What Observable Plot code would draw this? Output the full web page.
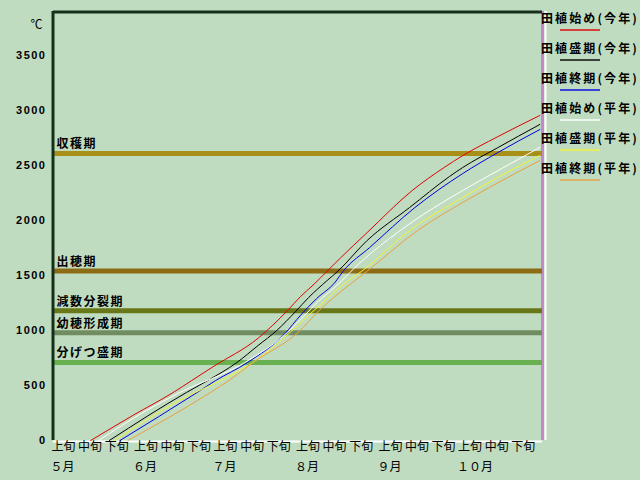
<!DOCTYPE html>
<html>
<head>
<meta charset="utf-8">
<script src="https://cdn.jsdelivr.net/npm/d3@7"></script>
<script src="https://cdn.jsdelivr.net/npm/@observablehq/plot@0.6"></script>
<style>
  html, body { margin: 0; padding: 0; background: #c0dcc0; }
  #wrap { position: relative; width: 640px; height: 480px; overflow: hidden; background: #c0dcc0; }
  #legend { position: absolute; left: 541px; top: 0; width: 99px; height: 200px;
            font-family: "Noto Sans CJK JP", sans-serif; }
  .lg-text { position: absolute; left: 0; font-size: 12px; line-height: 14px; font-weight: bold;
             letter-spacing: 2.1px; white-space: nowrap; color: #000; }
  .lg-line { position: absolute; left: 19px; width: 40px; height: 2px; opacity: 0.7; }
</style>
</head>
<body>
<div id="wrap"><div id="chart"></div><div id="legend"></div></div>
<script>
const YEAR = 2023;

// Tick labels
const yTicks = [0, 500, 1000, 1500, 2000, 2500, 3000, 3500];
const dekadDates = ["05-01","05-11","05-21","06-01","06-11","06-21","07-01","07-11","07-21",
                    "08-01","08-11","08-21","09-01","09-11","09-21","10-01","10-11","10-21"];
const dekadLabels = ["上旬","中旬","下旬","上旬","中旬","下旬","上旬","中旬","下旬",
                     "上旬","中旬","下旬","上旬","中旬","下旬","上旬","中旬","下旬"];
const monthDates = ["05-01","06-01","07-01","08-01","09-01","10-01"];
const monthLabels = ["５月","６月","７月","８月","９月","１０月"];

// Growth stage thresholds (accumulated temperature, ℃)
const stageNames  = ["収穫期","出穂期","減数分裂期","幼穂形成期","分げつ盛期"];
const stageValues = [2610, 1540, 1180, 980, 710];
const stageColors = ["#a89018","#8c6c14","#687818","#708c60","#68b050"];

// Series
const seriesNames  = ["田植始め(今年)","田植盛期(今年)","田植終期(今年)","田植始め(平年)","田植盛期(平年)","田植終期(平年)"];
const seriesColors = ["#e00000","#000000","#0000e0","#ffffff","#f4f430","#e8a040"];

const startThisDates  = ["05-15","05-31","06-15","06-22","06-30","07-17","07-28","08-02","08-07","08-12","08-17","08-27","09-13","09-25","10-02","10-15","10-31"];
const startThisValues = [0, 230, 436, 545, 670, 930, 1180, 1310, 1420, 1540, 1660, 1890, 2273, 2482, 2590, 2760, 2955];

const peakThisDates  = ["05-22","06-20","06-28","07-09","07-17","07-24","07-31","08-05","08-12","08-16","08-27","09-12","09-27","10-02","10-15","10-31"];
const peakThisValues = [0, 436, 545, 709, 864, 1000, 1170, 1300, 1455, 1539, 1818, 2118, 2400, 2482, 2660, 2873];

const endThisDates  = ["05-26","06-24","07-01","07-13","07-27","08-02","08-08","08-15","08-18","08-28","09-14","10-02","10-15","10-31"];
const endThisValues = [0, 436, 545, 709, 970, 1140, 1290, 1440, 1539, 1755, 2118, 2427, 2615, 2827];

const startNormDates  = ["05-18","06-05","06-17","07-12","07-28","08-04","08-08","08-17","08-21","09-10","10-02","10-15","10-31"];
const startNormValues = [0, 273, 430, 709, 982, 1150, 1250, 1440, 1539, 1936, 2273, 2450, 2664];

const peakNormDates  = ["05-24","06-21","07-03","07-15","07-29","08-07","08-12","08-20","08-25","09-12","10-02","10-15","10-31"];
const peakNormValues = [0, 410, 545, 709, 982, 1182, 1291, 1455, 1539, 1909, 2209, 2390, 2591];

const endNormDates  = ["05-29","06-29","07-06","07-15","08-01","08-09","08-14","08-27","09-15","10-02","10-15","10-31"];
const endNormValues = [0, 436, 545, 709, 982, 1182, 1291, 1539, 1909, 2164, 2340, 2545];

const seriesDates  = [startThisDates, peakThisDates, endThisDates, startNormDates, peakNormDates, endNormDates];
const seriesValues = [startThisValues, peakThisValues, endThisValues, startNormValues, peakNormValues, endNormValues];

// ---- build ----
const parse = s => new Date(`${YEAR}-${s}T00:00:00Z`);
const xStart = parse("05-01"), xEnd = parse("11-01");

const seriesRows = seriesNames.map((name, i) =>
  seriesDates[i].map((d, j) => ({series: name, date: parse(d), value: seriesValues[i][j]})));
const stages = stageNames.map((name, i) => ({name, value: stageValues[i], color: stageColors[i]}));
const dekads = dekadDates.map((d, i) => ({date: parse(d), label: dekadLabels[i]}));
const months = monthDates.map((d, i) => ({date: parse(d), label: monthLabels[i]}));

const frameDark = "#15301a";

const chart = Plot.plot({
  width: 640, height: 480,
  marginLeft: 53, marginRight: 98, marginTop: 11, marginBottom: 40,
  style: {background: "#c0dcc0", fontFamily: "'Noto Sans CJK JP', sans-serif", overflow: "visible", color: "#000"},
  x: {type: "utc", domain: [xStart, xEnd], axis: null},
  y: {domain: [0, 3900], axis: null},
  marks: [
    // frame
    Plot.ruleY([0], {stroke: "#ffffff", strokeWidth: 2, dy: 1}),
    Plot.ruleX([xEnd], {stroke: "#c48ac8", strokeWidth: 3}),
    Plot.ruleX([xEnd], {stroke: "#ffffff", strokeWidth: 2, dx: 3}),
    // stage lines
    ...stages.map(s => Plot.ruleY([s.value], {stroke: s.color, strokeWidth: 5})),
    Plot.text(stages, {y: "value", text: "name", frameAnchor: "left", textAnchor: "start",
                       dx: 3, dy: -9, fontSize: 12, fontWeight: "bold", fill: "#000"}),
    // series
    ...seriesRows.map((rows, i) => Plot.line(rows, {x: "date", y: "value", stroke: seriesColors[i],
                                                    strokeWidth: 1, curve: "monotone-x"})),
    // left & top dark border
    Plot.ruleX([xStart], {stroke: frameDark, strokeWidth: 3, dx: -0.5}),
    Plot.ruleY([3900], {stroke: frameDark, strokeWidth: 3, dy: 0.5}),
    // y axis
    Plot.axisY(yTicks, {tickSize: 0, tickPadding: 7, tickFormat: d => String(d), fontSize: 11,
                        fontWeight: "bold", fontFamily: "Liberation Sans, sans-serif", label: null}),
    Plot.text(["℃"], {frameAnchor: "top-left", dx: -23, dy: 9, fontSize: 12, fill: "#000"}),
    // x labels
    Plot.text(dekads, {x: "date", text: "label", frameAnchor: "bottom", dy: 10.5, dx: -2,
                       textAnchor: "start", fontSize: 12, fill: "#000"}),
    Plot.text(months, {x: "date", text: "label", frameAnchor: "bottom", dy: 30.5, dx: -3,
                       textAnchor: "start", fontSize: 12, fill: "#000"})
  ]
});
document.getElementById("chart").appendChild(chart);

// letter spacing for bold labels
d3.select(chart).selectAll("text").each(function() {
  const t = this.textContent;
  if (stageNames.includes(t)) this.style.letterSpacing = "1.5px";
  if (yTicks.map(String).includes(t)) this.style.letterSpacing = "1.5px";
});

// legend
const legend = document.getElementById("legend");
seriesNames.forEach((name, i) => {
  const t = document.createElement("div");
  t.className = "lg-text";
  t.style.top = (11 + 30 * i) + "px";
  t.textContent = name;
  legend.appendChild(t);
  const l = document.createElement("div");
  l.className = "lg-line";
  l.style.top = (29 + 30 * i) + "px";
  l.style.background = seriesColors[i];
  legend.appendChild(l);
});
</script>
</body>
</html>
